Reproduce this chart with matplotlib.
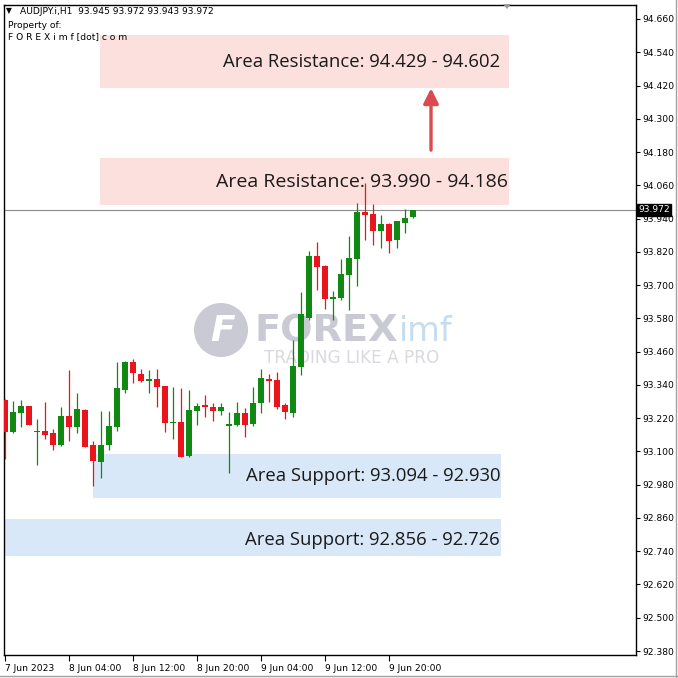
import matplotlib
matplotlib.use("Agg")
import matplotlib.pyplot as plt
from matplotlib.patches import Rectangle, Circle, Polygon
from matplotlib.lines import Line2D
import numpy as np

# ---------------------------------------------------------------------------
# Data (AUDJPY H1)
# ---------------------------------------------------------------------------
opens = [93.286, 93.170, 93.239, 93.264, 93.171, 93.175, 93.166, 93.123, 93.228, 93.188,
         93.250, 93.122, 93.063, 93.122, 93.189, 93.322, 93.423, 93.379, 93.353, 93.362,
         93.336, 93.202, 93.206, 93.084, 93.247, 93.266, 93.261, 93.245, 93.192, 93.194,
         93.240, 93.199, 93.276, 93.362, 93.358, 93.266, 93.240, 93.406, 93.581, 93.805,
         93.769, 93.651, 93.654, 93.738, 93.795, 93.964, 93.957, 93.896, 93.920, 93.863,
         93.925, 93.945]
highs = [93.290, 93.283, 93.286, 93.265, 93.217, 93.278, 93.182, 93.260, 93.394, 93.312,
         93.254, 93.139, 93.247, 93.247, 93.423, 93.425, 93.432, 93.398, 93.394, 93.398,
         93.336, 93.334, 93.329, 93.322, 93.276, 93.305, 93.276, 93.276, 93.242, 93.278,
         93.257, 93.334, 93.398, 93.379, 93.387, 93.276, 93.502, 93.675, 93.822, 93.856,
         93.774, 93.678, 93.795, 93.877, 93.997, 94.068, 93.993, 93.954, 93.923, 93.932,
         93.973, 93.972]
lows = [93.073, 93.166, 93.188, 93.195, 93.051, 93.146, 93.105, 93.121, 93.139, 93.168,
        93.115, 92.975, 93.004, 93.105, 93.175, 93.311, 93.348, 93.352, 93.310, 93.259,
        93.171, 93.144, 93.079, 93.081, 93.197, 93.224, 93.210, 93.230, 93.021, 93.192,
        93.151, 93.192, 93.240, 93.278, 93.254, 93.218, 93.223, 93.377, 93.574, 93.682,
        93.615, 93.574, 93.646, 93.610, 93.697, 93.863, 93.844, 93.834, 93.817, 93.834,
        93.887, 93.943]
closes = [93.171, 93.242, 93.264, 93.197, 93.175, 93.160, 93.123, 93.228, 93.188, 93.253,
          93.117, 93.064, 93.122, 93.192, 93.329, 93.423, 93.382, 93.353, 93.360, 93.334,
          93.202, 93.206, 93.081, 93.250, 93.264, 93.259, 93.245, 93.261, 93.199, 93.240,
          93.197, 93.276, 93.365, 93.355, 93.262, 93.241, 93.408, 93.596, 93.805, 93.766,
          93.649, 93.658, 93.740, 93.798, 93.964, 93.954, 93.896, 93.920, 93.860, 93.930,
          93.942, 93.972]

time_labels = ["7 Jun 2023", "8 Jun 04:00", "8 Jun 12:00", "8 Jun 20:00",
               "9 Jun 04:00", "9 Jun 12:00", "9 Jun 20:00"]
time_label_bars = [0, 8, 16, 24, 32, 40, 48]

price_ticks = [92.380, 92.500, 92.620, 92.740, 92.860, 92.980, 93.100, 93.220, 93.340,
               93.460, 93.580, 93.700, 93.820, 93.940, 94.060, 94.180, 94.300, 94.420,
               94.540, 94.660]

zone_names = ["Area Resistance: 94.429 - 94.602", "Area Resistance: 93.990 - 94.186",
              "Area Support: 93.094 - 92.930", "Area Support: 92.856 - 92.726"]
zone_lo = [94.411, 93.988, 92.932, 92.723]
zone_hi = [94.602, 94.159, 93.091, 92.856]

current_price = 93.972

# ---------------------------------------------------------------------------
# Style
# ---------------------------------------------------------------------------
W = H = 678
UP = "#118811"
DOWN = "#e8161c"
RES_FILL = "#fce0dd"
SUP_FILL = "#d8e8f8"
ARROW_RED = "#db4a4d"

fig = plt.figure(figsize=(W / 100, H / 100), dpi=100)
fig.patch.set_facecolor("white")
ax = fig.add_axes([4 / W, 1 - 655 / H, 632 / W, 650 / H])

n = len(opens)
x = np.arange(n)
o = np.array(opens)
c = np.array(closes)
up = c >= o
cols = np.where(up, UP, DOWN)

# zones (x extents and label anchors in bar units)
zone_x0 = [11.9, 11.9, 11.0, -1.0]
zone_x1 = [63.0, 63.0, 62.0, 62.0]
zone_tx = [61.9, 62.9, 61.9, 61.9]
zone_ty_shift = [0.0, 0.0, 0.0, -0.008]
zone_fs = [13.3, 14.0, 13.3, 13.3]
for name, lo, hi, x0, x1, tx, dy, fs, fill in zip(
        zone_names, zone_lo, zone_hi, zone_x0, zone_x1, zone_tx, zone_ty_shift, zone_fs,
        [RES_FILL, RES_FILL, SUP_FILL, SUP_FILL]):
    ax.add_patch(Rectangle((x0, lo), x1 - x0, hi - lo, facecolor=fill,
                           edgecolor="none", zorder=1))
    ax.text(tx, (lo + hi) / 2 + dy, name, ha="right", va="center",
            fontsize=fs, family="Open Sans", color="#1a1a1a", zorder=6)

# watermark (behind candles)
tf = fig.transFigure
def fp(px, py):
    return px / W, 1 - py / H
ax.add_patch(Circle(fp(221, 330), 27 / W, transform=tf, facecolor="#c9cad3",
                    edgecolor="none", zorder=1.5))
ax.text(*fp(223, 331), "F", transform=tf, ha="center", va="center", fontsize=26,
        fontweight="bold", fontstyle="italic", color="white", zorder=1.6)
ax.text(*fp(254, 331), "FOREX", transform=tf, ha="left", va="center", fontsize=27.5,
        fontweight="bold", color="#c9cad3", family="DejaVu Sans", zorder=1.5)
ax.text(*fp(399, 331), "imf", transform=tf, ha="left", va="center", fontsize=24,
        color="#c6dcef", family="DejaVu Sans", zorder=1.5)
ax.text(*fp(352, 358), "TRADING LIKE A PRO", transform=tf, ha="center", va="center",
        fontsize=12.2, color="#d9dae0", family="DejaVu Sans", zorder=1.5)

# current price line
ax.axhline(current_price, color="#8c8c8c", lw=0.8, zorder=2)

# candles
ax.vlines(x, lows, highs, colors=cols, lw=0.9, zorder=3)
body_h = np.maximum(np.abs(c - o), 0.004)
ax.bar(x, body_h, bottom=np.minimum(o, c), width=0.66, color=cols,
       linewidth=0, zorder=4)

# arrow from lower resistance to upper resistance
ax.annotate("", xy=(53.25, 94.420), xytext=(53.25, 94.177),
            arrowprops=dict(arrowstyle="-|>,head_width=0.45,head_length=0.9",
                            color=ARROW_RED, lw=2.4), zorder=6)

# axes
ax.set_xlim(-0.125, 78.875)
ax.set_ylim(92.3656, 94.7105)
for s in ax.spines.values():
    s.set_color("black")
    s.set_linewidth(1.0)

ax.yaxis.tick_right()
ax.set_yticks(price_ticks)
ax.set_yticklabels([f"{p:.3f}" for p in price_ticks])
ax.tick_params(axis="y", direction="out", length=3, width=0.8, pad=1.5,
               labelsize=6.6, colors="black")

ax.set_xticks(time_label_bars)
ax.set_xticklabels(time_labels)
for lab in ax.get_xticklabels():
    lab.set_horizontalalignment("left")
ax.tick_params(axis="x", direction="out", length=4, width=0.8, pad=2.5,
               labelsize=6.6, colors="black")

# current price tag on the price scale
ax.text(1.003, (current_price - 92.3656) / (94.7105 - 92.3656), f"{current_price:.3f}",
        transform=ax.transAxes, ha="left", va="center", fontsize=6.6, color="white",
        bbox=dict(boxstyle="square,pad=0.15", facecolor="black", edgecolor="black"),
        clip_on=False, zorder=10)

# header text
fig.text(*fp(6, 11), "▼", fontsize=5.5, va="center", ha="left", color="black")
fig.text(*fp(20, 11), "AUDJPY.i,H1  93.945 93.972 93.943 93.972", fontsize=6.6,
         va="center", ha="left", color="black")
fig.text(*fp(8, 25), "Property of:", fontsize=6.6, va="center", ha="left", color="black")
fig.text(*fp(8, 37), "F O R E X i m f [dot] c o m", fontsize=6.6, va="center",
         ha="left", color="black")

# chart shift marker
fig.patches.append(Polygon([fp(503, 4), fp(511, 4), fp(507, 9)], closed=True,
                           transform=tf, facecolor="#9a9a9a", edgecolor="none"))

# window frame (right / bottom)
fig.lines.append(Line2D([676 / W, 676 / W], [0, 1], transform=tf, color="#a0a0a0", lw=1))
fig.lines.append(Line2D([0, 1], [1 - 676 / H, 1 - 676 / H], transform=tf,
                        color="#a0a0a0", lw=1))

fig.savefig("out.png", dpi=100)
